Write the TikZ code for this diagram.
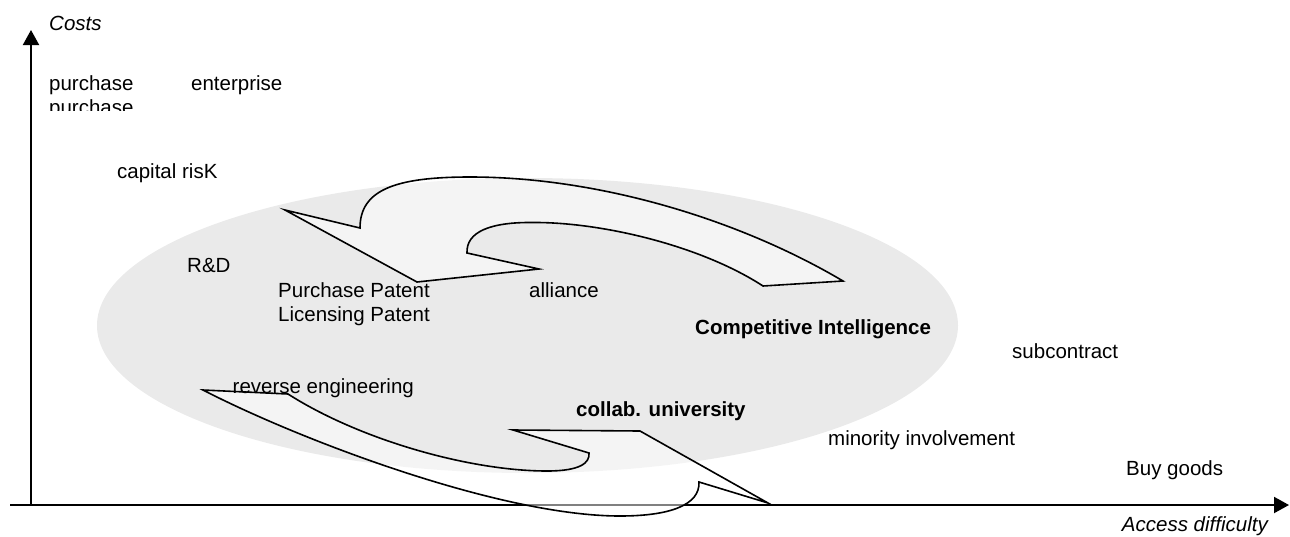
\documentclass[tikz,border=0pt]{standalone}
\usepackage{fontspec}
\setmainfont{Liberation Sans}
\usetikzlibrary{arrows.meta}
\definecolor{ellgray}{HTML}{EAEAEA}
\begin{document}
\begin{tikzpicture}[x=1pt,y=-1pt,
  lbl/.style={anchor=base west,inner sep=0pt,font=\fontsize{20.5}{24}\selectfont},
  axisline/.style={line width=2pt,-{Triangle[length=15pt,width=16pt]}},
  bigarrow/.style={draw=black,line width=1.6pt,line join=miter,fill=white,fill opacity=0.5}]
\useasboundingbox (0,0) rectangle (1290,536);
% ellipse
\fill[ellgray] (527.5,325.5) ellipse [x radius=430.5,y radius=147.5];
% axes
\coordinate (origin) at (31,505);
\coordinate (xstart) at (10,505);
\coordinate (xend) at (1289,505);
\coordinate (yend) at (31,30);
\draw[axisline] (xstart) -- (xend);
\draw[axisline] (origin) -- (yend);
% upper curved arrow (points left)
\draw[bigarrow] (285,210) -- (360,228)
  .. controls (360,190) and (395,177) .. (470,177)
  .. controls (600,177) and (740,220) .. (843,281)
  -- (763,286)
  .. controls (700,245) and (600,222) .. (533,222.5)
  .. controls (490,222) and (466,232) .. (467,253)
  -- (539,269) -- (417,282) -- cycle;
% lower curved arrow (points right)
\draw[bigarrow] (203,390) -- (288,394)
  .. controls (360,440) and (470,471) .. (547,471)
  .. controls (580,471) and (590,463) .. (589,453)
  -- (513,430) -- (640,431) -- (768,503) -- (699,482)
  .. controls (700,505) and (670,516) .. (620,516)
  .. controls (500,516) and (300,440) .. cycle;
% labels
\node[lbl,font=\fontsize{20.5}{24}\selectfont\itshape] (costs) at (49,30) {Costs};
\node[lbl] (purch1) at (49,90) {purchase};
\begin{scope}
  \clip (0,0) rectangle (300,110.5);
  \node[lbl] (purch2) at (49,114) {purchase};
\end{scope}
\node[lbl] (enterprise) at (191,90) {enterprise};
\node[lbl] (capital) at (117,178) {capital risK};
\node[lbl] (rd) at (187,272) {R\&D};
\node[lbl] (ppatent) at (278,297) {Purchase Patent};
\node[lbl] (lpatent) at (278,321) {Licensing Patent};
\node[lbl] (alliance) at (529,297) {alliance};
\node[lbl,font=\fontsize{20.5}{24}\selectfont\bfseries] (ci) at (695,334) {Competitive Intelligence};
\node[lbl] (subcontract) at (1012,358) {subcontract};
\node[lbl] (reverse) at (232.5,393) {reverse engineering};
\node[lbl,font=\fontsize{20.5}{24}\selectfont\bfseries] (collab) at (576,416) {collab. university};
\node[lbl] (minority) at (828,445) {minority involvement};
\node[lbl] (buy) at (1126,475) {Buy goods};
\node[lbl,anchor=base east,font=\fontsize{20.5}{24}\selectfont\itshape] (access) at (1268,531) {Access difficulty};
\end{tikzpicture}
\end{document}
